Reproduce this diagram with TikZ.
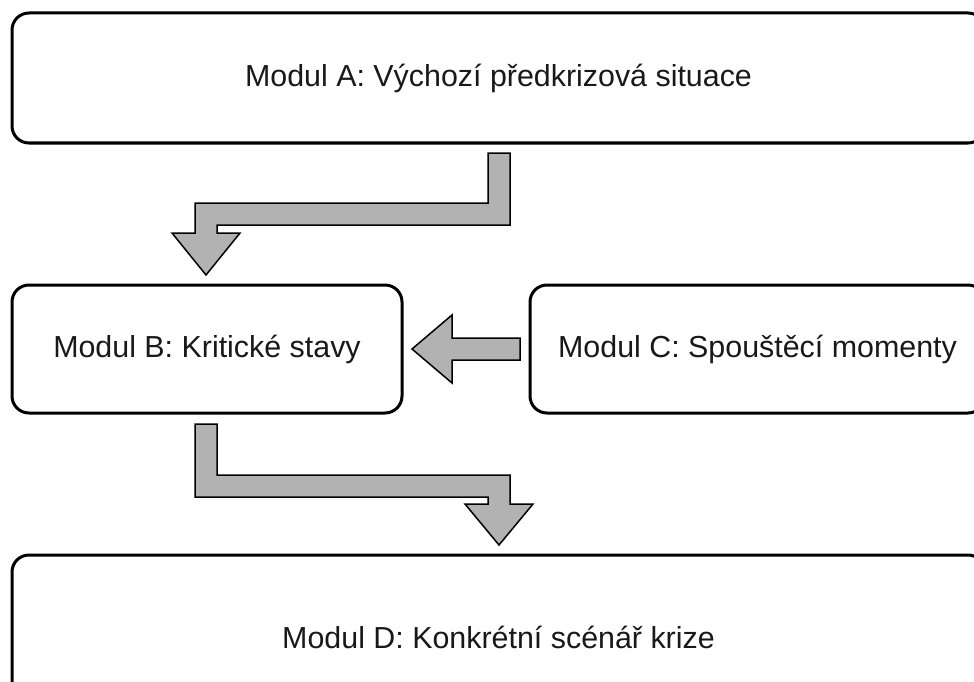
\documentclass[tikz,border=0pt]{standalone}
\usepackage{fontspec}
\setmainfont{Liberation Sans}
\usetikzlibrary{positioning}

\tikzset{
	modul/.style={draw, line width=3pt, rounded corners=17pt, align=center,
		font=\fontsize{30.4}{35}\selectfont, text=black!90},
	blockarrow/.style={draw, line width=1.5pt, fill=black!30, line join=miter}
}

\begin{document}
\begin{tikzpicture}[x=1pt,y=-1pt]

		% page
		\clip (0,0) rectangle (974,682);

		% moduly
		\node[modul, minimum width=973pt, minimum height=130pt] (A) at (498.5,78) {Modul A: Výchozí předkrizová situace};
		\node[modul, minimum width=390pt, minimum height=128pt] (B) at (207,349) {Modul B: Kritické stavy};
		\node[modul, minimum width=455pt, minimum height=128pt] (C) at (757.5,349) {Modul C: Spouštěcí momenty};
		\node[modul, minimum width=973pt, minimum height=164pt] (D) at (498.5,637) {Modul D: Konkrétní scénář krize};

		%% Arrows %%
		% A -> B
		\draw[blockarrow] (488,153) -- (510,153) -- (510,225) -- (217,225) -- (217,233) --
						(240,233) -- (206,275) -- (172,233) -- (195,233) -- (195,203) --
						(488,203) -- cycle;
		% C -> B
		\draw[blockarrow] (520,338) -- (520,360) -- (452,360) -- (452,383) --
						(412,349) -- (452,315) -- (452,338) -- cycle;
		% B -> D
		\draw[blockarrow] (195,424) -- (217,424) -- (217,475) -- (510,475) -- (510,504) --
						(533,504) -- (499,545) -- (465,504) -- (488,504) -- (488,497) --
						(195,497) -- cycle;

	\end{tikzpicture}
\end{document}
